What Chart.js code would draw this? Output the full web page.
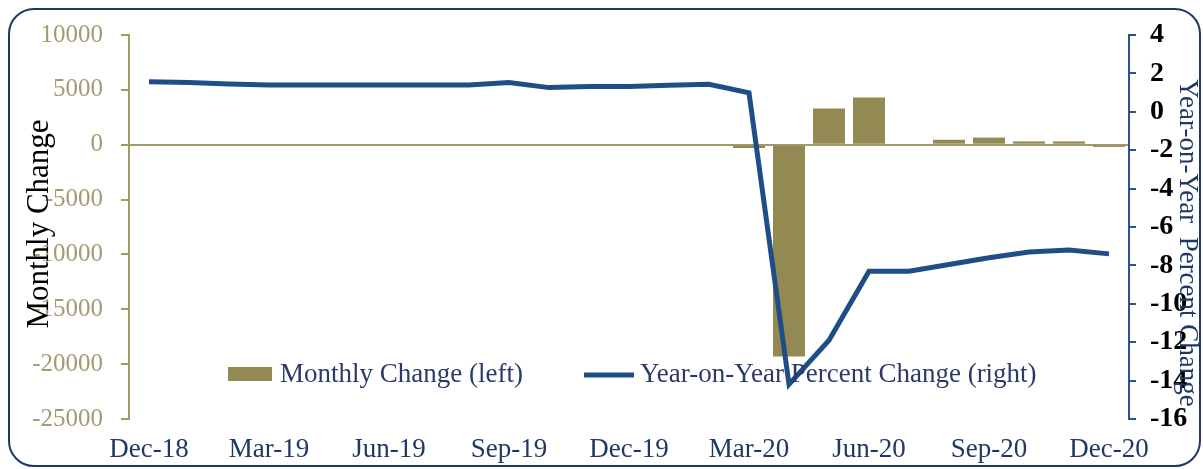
<!DOCTYPE html>
<html>
<head>
<meta charset="utf-8">
<script src="https://cdn.jsdelivr.net/npm/chart.js@4"></script>
<style>
  html, body { margin: 0; padding: 0; background: #fff; }
  #wrap { position: relative; width: 1203px; height: 469px; }
  #frame {
    position: absolute; left: 8px; top: 8px; width: 1193px; height: 459px;
    border: 2px solid #1f3864; border-radius: 26px; box-sizing: border-box;
  }
  canvas { position: absolute; left: 0; top: 0; }
</style>
</head>
<body>
<div id="wrap">
  <div id="frame"></div>
  <canvas id="chart-1" width="1203" height="469"></canvas>
</div>
<script>
const chart1 = document.getElementById('chart-1').getContext('2d');

const months = ['Dec-18', 'Jan-19', 'Feb-19', 'Mar-19', 'Apr-19', 'May-19', 'Jun-19', 'Jul-19', 'Aug-19',
    'Sep-19', 'Oct-19', 'Nov-19', 'Dec-19', 'Jan-20', 'Feb-20', 'Mar-20', 'Apr-20', 'May-20', 'Jun-20',
    'Jul-20', 'Aug-20', 'Sep-20', 'Oct-20', 'Nov-20', 'Dec-20'];
const monthlyChange = [0, 0, 0, 0, 0, 0, 0, 0, 0, 0, 0, 0, 0, 0, 0,
    -300, -19300, 3300, 4300, 0, 450, 650, 300, 300, -200];
const yoyChange = [1.57, 1.53, 1.45, 1.40, 1.40, 1.40, 1.40, 1.40, 1.40, 1.52, 1.26, 1.32, 1.32, 1.38, 1.43,
    0.99, -14.2, -11.9, -8.3, -8.3, -7.95, -7.6, -7.3, -7.2, -7.4];
const leftTicks = [10000, 5000, 0, -5000, -10000, -15000, -20000, -25000];
const rightTicks = [4, 2, 0, -2, -4, -6, -8, -10, -12, -14, -16];

const gold = '#938a53';
const goldAxis = '#a39a6a';
const navy = '#1f4e86';
const serif = "'Liberation Serif', 'Times New Roman', serif";

// axis titles + legend drawn on the canvas
const extras = {
    id: 'extras',
    afterDraw(chart) {
        const ctx = chart.ctx;
        ctx.save();
        ctx.font = '31px ' + serif;
        ctx.fillStyle = '#000';
        ctx.textAlign = 'center';
        ctx.textBaseline = 'middle';
        ctx.translate(40, 224);
        ctx.rotate(-Math.PI / 2);
        ctx.fillText('Monthly Change', 0, 0);
        ctx.restore();

        ctx.save();
        ctx.font = '27px ' + serif;
        ctx.fillStyle = '#1f3864';
        ctx.textAlign = 'center';
        ctx.textBaseline = 'middle';
        ctx.translate(1187, 243);
        ctx.rotate(Math.PI / 2);
        ctx.fillText('Year-on-Year  Percent Change', 0, 0);
        ctx.restore();

        // legend
        ctx.save();
        ctx.font = '27px ' + serif;
        ctx.textBaseline = 'middle';
        ctx.fillStyle = gold;
        ctx.fillRect(228, 367, 44, 14);
        ctx.strokeStyle = navy;
        ctx.lineWidth = 5;
        ctx.beginPath();
        ctx.moveTo(584, 375);
        ctx.lineTo(634, 375);
        ctx.stroke();
        ctx.fillStyle = '#2b3a68';
        ctx.fillText(chart.data.datasets[1].label, 280, 375);
        ctx.fillText(chart.data.datasets[0].label, 640, 375);
        ctx.restore();
    }
};

var comboChart = new Chart(chart1, {
    type: 'bar',
    data: {
        labels: months,
        datasets: [{
            type: 'line',
            label: 'Year-on-Year Percent Change (right)',
            data: yoyChange,
            yAxisID: 'yRight',
            borderColor: navy,
            backgroundColor: navy,
            borderWidth: 5,
            pointRadius: 0,
            tension: 0,
            order: 0
        }, {
            type: 'bar',
            label: 'Monthly Change (left)',
            data: monthlyChange,
            yAxisID: 'yLeft',
            backgroundColor: gold,
            barPercentage: 0.8,
            categoryPercentage: 1.0,
            order: 1
        }]
    },
    options: {
        responsive: false,
        animation: false,
        layout: { padding: { top: 35, left: 0, right: 0, bottom: 0 } },
        plugins: { legend: { display: false }, tooltip: { enabled: false } },
        scales: {
            x: {
                grid: { display: false, drawTicks: false },
                border: { display: false },
                afterFit: (scale) => { scale.height = 50; },
                ticks: {
                    autoSkip: false,
                    maxRotation: 0,
                    padding: 15,
                    color: '#1f3864',
                    font: { family: serif, size: 27 },
                    callback: function (value, index) {
                        return index % 3 === 0 ? months[index] : '';
                    }
                }
            },
            yLeft: {
                position: 'left',
                min: -25000,
                max: 10000,
                afterFit: (scale) => { scale.width = 129; },
                afterBuildTicks: (scale) => { scale.ticks = leftTicks.map(v => ({ value: v })); },
                border: { display: true, color: goldAxis, width: 2 },
                grid: {
                    drawOnChartArea: true,
                    color: (c) => (c.tick && c.tick.value === 0 ? goldAxis : 'rgba(0,0,0,0)'),
                    lineWidth: 2,
                    tickColor: goldAxis,
                    tickLength: 8
                },
                ticks: {
                    padding: 18,
                    color: '#a39b72',
                    font: { family: serif, size: 25 },
                    callback: (v) => String(v)
                }
            },
            yRight: {
                position: 'right',
                min: -16,
                max: 4,
                afterFit: (scale) => { scale.width = 74; },
                afterBuildTicks: (scale) => { scale.ticks = rightTicks.map(v => ({ value: v })); },
                border: { display: true, color: '#2a5190', width: 2 },
                grid: {
                    drawOnChartArea: false,
                    tickColor: '#2a5190',
                    lineWidth: 2,
                    tickLength: 7
                },
                ticks: {
                    padding: 14,
                    color: '#000',
                    font: { family: serif, size: 28, weight: 'bold' },
                    callback: (v) => String(v)
                }
            }
        }
    },
    plugins: [extras]
});
</script>
</body>
</html>
